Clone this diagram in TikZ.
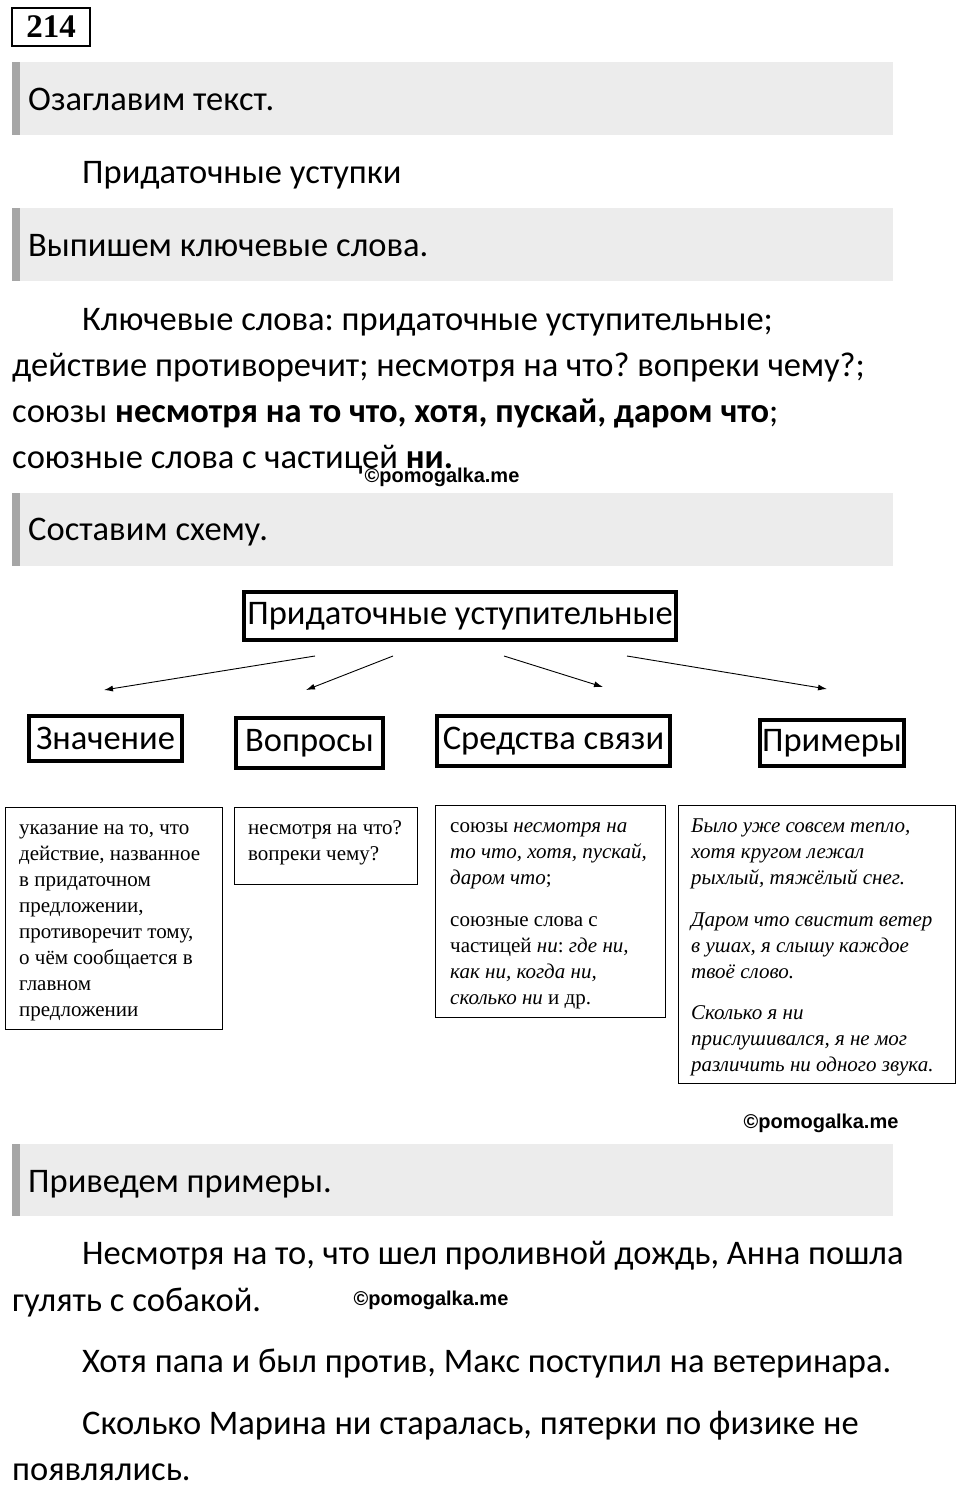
\documentclass[tikz,border=0pt]{standalone}
\usepackage{fontspec}
\usetikzlibrary{arrows.meta}
\setmainfont{Carlito}
\newfontfamily\tms{Liberation Serif}
\newfontfamily\wmf{Liberation Sans}
\frenchspacing
\begin{document}
\begin{tikzpicture}[x=1pt,y=-1pt,
  main/.style={anchor=base west,inner sep=0pt,font=\fontsize{34.5}{40}\selectfont},
  sm/.style={anchor=base west,inner sep=0pt,font=\tms\fontsize{21}{24}\selectfont},
  smi/.style={anchor=base west,inner sep=0pt,font=\tms\itshape\fontsize{21}{24}\selectfont},
  wm/.style={inner sep=0pt,font=\wmf\bfseries\fontsize{20}{22}\selectfont},
  head/.style={draw,line width=3.5pt,inner sep=0pt,font=\fontsize{34.5}{40}\selectfont},
  tbox/.style={draw,line width=0.9pt},
  arr/.style={-{Latex[length=9pt,width=6pt]},line width=0.9pt}]
\useasboundingbox (0,0) rectangle (960,1488);
\fill[white] (0,0) rectangle (960,1488);
% number
\draw[line width=2.5pt] (12,8) rectangle (90,46);
\node[inner sep=0pt,font=\tms\bfseries\fontsize{33}{35}\selectfont] (num) at (51,27) {214};
% banners
\foreach \a/\b in {62/135,208/281,493/566,1144/1216}{
  \fill[gray!15] (12,\a) rectangle (893,\b);
  \fill[gray!70] (12,\a) rectangle (20,\b);}
\node[main] (b1) at (28,110) {Озаглавим текст.};
\node[main] (t1) at (82,183) {Придаточные уступки};
\node[main] (b2) at (28,256) {Выпишем ключевые слова.};
\node[main] (k1) at (82,330) {Ключевые слова: придаточные уступительные;};
\node[main] (k2) at (12,376) {действие противоречит; несмотря на что? вопреки чему?;};
\node[main] (k3) at (12,422) {союзы \textbf{несмотря на то что, хотя, пускай, даром что};};
\node[main] (k4) at (12,468) {союзные слова с частицей \textbf{ни.}};
\node[wm] (w1) at (442,477) {©pomogalka.me};
\node[main] (b3) at (28,540) {Составим схему.};
% schema
\node[head,minimum width=432pt,minimum height=48pt] (T) at (460,616) {Придаточные уступительные};
\node[head,minimum width=153pt,minimum height=45pt] (A) at (105.5,738.5) {Значение};
\node[head,minimum width=147pt,minimum height=50pt] (B) at (309.5,743) {Вопросы};
\node[head,minimum width=233pt,minimum height=50pt] (C) at (553.5,741) {Средства связи};
\node[head,minimum width=144pt,minimum height=46pt] (D) at (832,743) {Примеры};
\coordinate (a1) at (315,656); \coordinate (a2) at (104,690);
\coordinate (b1s) at (393,656); \coordinate (b2e) at (306,690);
\coordinate (c1) at (504,656); \coordinate (c2) at (603,687);
\coordinate (d1) at (627,656); \coordinate (d2) at (827,689);
\draw[arr] (a1) -- (a2);
\draw[arr] (b1s) -- (b2e);
\draw[arr] (c1) -- (c2);
\draw[arr] (d1) -- (d2);
\draw[tbox] (5,807) rectangle (222,1029);
\draw[tbox] (234,807) rectangle (417,884);
\draw[tbox] (435,805) rectangle (665,1017);
\draw[tbox] (678,805) rectangle (955,1083);
\foreach \t/\y in {{указание на то, что}/834,{действие, названное}/860,{в придаточном}/886,{предложении,}/912,{противоречит тому,}/938,{о чём сообщается в}/964,{главном}/990,{предложении}/1016}
  \node[sm] at (19,\y) {\t};
\node[sm] at (248,834) {несмотря на что?};
\node[sm] at (248,860) {вопреки чему?};
\node[sm] at (450,832) {союзы \textit{несмотря на}};
\node[sm] at (450,858) {\textit{то что, хотя, пускай,}};
\node[sm] at (450,884) {\textit{даром что};};
\node[sm] at (450,926) {союзные слова с};
\node[sm] at (450,952) {частицей \textit{ни}: \textit{где ни,}};
\node[sm] at (450,978) {\textit{как ни, когда ни,}};
\node[sm] at (450,1004) {\textit{сколько ни} и др.};
\foreach \t/\y in {{Было уже совсем тепло,}/832,{хотя кругом лежал}/858,{рыхлый, тяжёлый снег.}/884,
  {Даром что свистит ветер}/926,{в ушах, я слышу каждое}/952,{твоё слово.}/978,
  {Сколько я ни}/1019,{прислушивался, я не мог}/1045,{различить ни одного звука.}/1071}
  \node[smi] at (691,\y) {\t};
\node[wm] (w2) at (821,1123) {©pomogalka.me};
\node[main] (b4) at (28,1192) {Приведем примеры.};
\node[main] (e1) at (82,1264) {Несмотря на то, что шел проливной дождь, Анна пошла};
\node[main] (e2) at (12,1311) {гулять с собакой.};
\node[wm] (w3) at (431,1300) {©pomogalka.me};
\node[main] (e3) at (82,1372) {Хотя папа и был против, Макс поступил на ветеринара.};
\node[main] (e4) at (82,1434) {Сколько Марина ни старалась, пятерки по физике не};
\node[main] (e5) at (12,1480) {появлялись.};
\end{tikzpicture}
\end{document}
